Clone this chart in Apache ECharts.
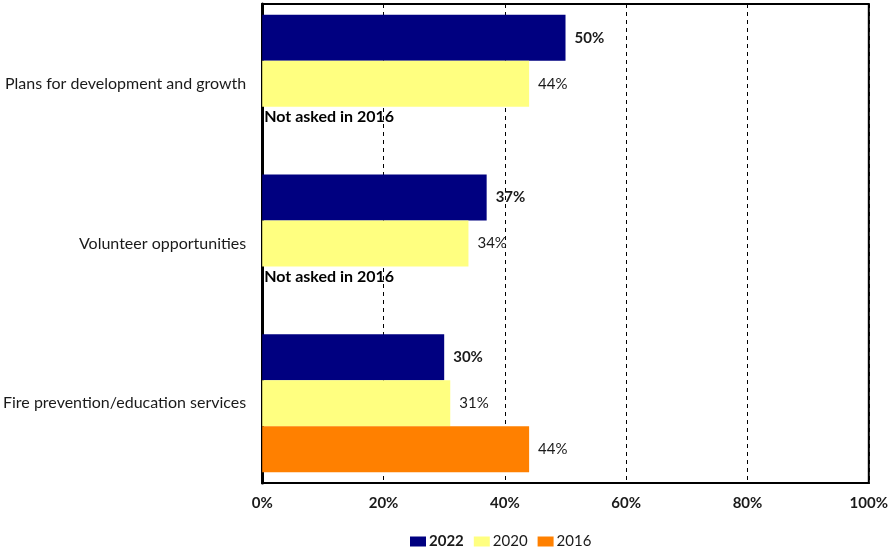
<!DOCTYPE html>
<html>
<head>
<meta charset="utf-8">
<script src="https://cdn.jsdelivr.net/npm/echarts@6/dist/echarts.min.js"></script>
<style>
  html, body { margin: 0; padding: 0; background: #fff; }
  #chart { width: 891px; height: 549px; }
</style>
</head>
<body>
<div id="chart"></div>
<script>
// Survey topics and the share of respondents for each survey year
const categories = [
  'Plans for development and growth',
  'Volunteer opportunities',
  'Fire prevention/education services'
];
const values2022 = [50, 37, 30];
const values2020 = [44, 34, 31];
// null = question not asked that year
const values2016 = [null, null, 44];
const notAskedText = 'Not asked in 2016';
const xTicks = [0, 20, 40, 60, 80, 100];

const FONT = 'Lato, "Open Sans", sans-serif';

const chart = echarts.init(document.getElementById('chart'));

function valueLabel(bold) {
  return {
    show: true,
    position: 'right',
    distance: 9,
    fontFamily: FONT,
    fontSize: 15,
    fontWeight: bold ? 'bold' : 'normal',
    color: '#1a1a1a',
    formatter: p => p.value + '%'
  };
}

const data2016 = values2016.map(v => {
  if (v === null) {
    return {
      value: 0,
      label: {
        show: true,
        position: 'insideLeft',
        distance: 2,
        offset: [0, -13],
        fontWeight: 'bold',
        fontFamily: FONT,
        fontSize: 16,
        color: '#000',
        formatter: notAskedText
      }
    };
  }
  return { value: v };
});

chart.setOption({
  animation: false,
  grid: {
    left: 261, right: 18, top: 4, bottom: 66,
    show: true, borderColor: '#000', borderWidth: 2, containLabel: false
  },
  legend: {
    left: 405,
    top: 529,
    itemWidth: 16,
    itemHeight: 10,
    itemGap: 10,
    icon: 'rect',
    textStyle: { fontFamily: FONT, fontSize: 15, color: '#1a1a1a', padding: [0, 0, 0, -2] },
    data: [
      { name: '2022', textStyle: { fontWeight: 'bold' } },
      { name: '2020' },
      { name: '2016' }
    ]
  },
  xAxis: {
    type: 'value',
    min: xTicks[0],
    max: xTicks[xTicks.length - 1],
    interval: 20,
    axisLine: { show: true, lineStyle: { color: '#000', width: 2 } },
    axisTick: { show: false },
    axisLabel: {
      fontFamily: FONT, fontSize: 15, fontWeight: 'bold', color: '#1a1a1a',
      margin: 13,
      formatter: v => v + '%'
    },
    splitLine: { show: true, lineStyle: { color: '#000', type: [4, 4], width: 1 } }
  },
  yAxis: {
    type: 'category',
    inverse: true,
    data: categories,
    axisLine: { show: true, lineStyle: { color: '#000', width: 3 } },
    axisTick: { show: false },
    axisLabel: {
      fontFamily: FONT, fontSize: 16, color: '#1a1a1a', margin: 16
    }
  },
  series: [
    {
      name: '2022', type: 'bar', data: values2022,
      itemStyle: { color: '#000080' },
      barGap: '0%', barCategoryGap: '13.6%',
      label: valueLabel(true)
    },
    {
      name: '2020', type: 'bar', data: values2020,
      itemStyle: { color: '#FFFF80' },
      barGap: '0%', barCategoryGap: '13.6%',
      label: valueLabel(false)
    },
    {
      name: '2016', type: 'bar', data: data2016,
      itemStyle: { color: '#FF8000' },
      barGap: '0%', barCategoryGap: '13.6%',
      label: valueLabel(false)
    }
  ]
});
</script>
</body>
</html>
